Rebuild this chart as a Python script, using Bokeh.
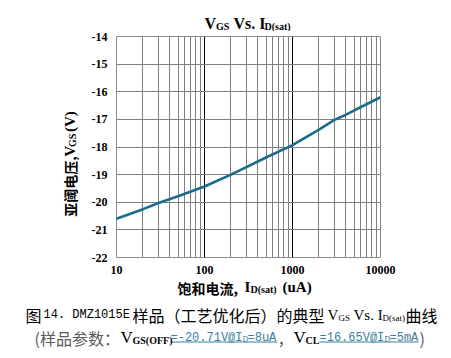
from bokeh.plotting import figure
from bokeh.models import Range1d, FixedTicker, Label
from bokeh.layouts import column, row
from bokeh.embed import file_html
from bokeh.resources import INLINE

# ---- data ----
current_ua = [10, 20, 30, 50, 100, 200, 500, 1000, 2000, 3000, 4000, 5000, 10000]
vgs_v = [-20.6, -20.25, -20.03, -19.78, -19.43, -19.0, -18.38, -17.93, -17.37, -17.02, -16.84, -16.68, -16.2]
x_ticks = [10, 100, 1000, 10000]
x_tick_labels = ["10", "100", "1000", "10000"]
y_ticks = [-22, -21, -20, -19, -18, -17, -16, -15, -14]
y_tick_labels = ["-22", "-21", "-20", "-19", "-18", "-17", "-16", "-15", "-14"]
x_major_grid = [100, 1000]
x_minor_grid = [m * 10 ** d for d in (1, 2, 3) for m in range(2, 10)]
y_grid = [-21, -20, -19, -18, -17, -16, -15]

GRID = "#7f7f7f"
CURVE = "#1d6a8a"
TEAL = "#3a7f9c"
GRAYTXT = "#5a5a5a"
SERIF = "Liberation Serif"
CJK = "Noto Sans CJK SC"
MONO = "Liberation Mono"

# page layout (pixels)
W = 443
TOP_H = 31            # title strip
MID_H = 250           # chart row
BOT_H = 70            # x label + caption strip
LEFT_W = 84           # y label strip
FL, FR, FT, FB = 116, 380, 36, 257   # frame edges on the page

# ---- main chart ----
MW = W - LEFT_W
p = figure(width=MW, height=MID_H, x_axis_type="log",
           x_range=Range1d(10, 10000), y_range=Range1d(-22, -14),
           output_backend="svg", toolbar_location=None,
           min_border_left=FL - LEFT_W, min_border_right=W - FR,
           min_border_top=FT - TOP_H, min_border_bottom=TOP_H + MID_H - FB)
p.background_fill_color = "white"
p.border_fill_color = "white"
p.outline_line_color = "#8c8c8c"
p.outline_line_width = 1

p.xgrid.ticker = FixedTicker(ticks=x_major_grid, minor_ticks=x_minor_grid)
p.xgrid.grid_line_color = "black"
p.xgrid.grid_line_width = 1
p.xgrid.minor_grid_line_color = GRID
p.xgrid.minor_grid_line_width = 1
p.ygrid.ticker = FixedTicker(ticks=y_grid)
p.ygrid.grid_line_color = GRID
p.ygrid.grid_line_width = 1

p.xaxis.ticker = FixedTicker(ticks=x_ticks)
p.xaxis.major_label_overrides = {t: s for t, s in zip(x_ticks, x_tick_labels)}
p.yaxis.ticker = FixedTicker(ticks=y_ticks)
p.yaxis.major_label_overrides = {t: s for t, s in zip(y_ticks, y_tick_labels)}
for ax in (p.xaxis, p.yaxis):
    ax.axis_line_color = None
    ax.major_tick_line_color = None
    ax.minor_tick_line_color = None
    ax.major_tick_out = 0
    ax.major_tick_in = 0
    ax.minor_tick_out = 0
    ax.minor_tick_in = 0
    ax.major_label_text_font = SERIF
    ax.major_label_text_font_style = "bold"
    ax.major_label_text_font_size = "12px"
    ax.major_label_text_color = "black"
p.xaxis.major_label_standoff = 8
p.yaxis.major_label_standoff = 9

p.line(current_ua, vgs_v, line_color=CURVE, line_width=2.6)


# ---- text strips: blank figures whose data units are page pixels ----
def strip(x0, x1, y0, y1):
    f = figure(width=x1 - x0, height=y1 - y0,
               x_range=Range1d(x0, x1), y_range=Range1d(y1, y0),
               x_axis_type=None, y_axis_type=None,
               output_backend="svg", toolbar_location=None, min_border=0)
    f.outline_line_color = None
    f.background_fill_color = "white"
    f.border_fill_color = "white"
    return f


def txt(f, text, px, py, size, font=SERIF, style="bold", color="black", angle=0.0):
    f.add_layout(Label(x=px, y=py, text=text, text_font=font,
                       text_font_size=f"{size}px", text_font_style=style,
                       text_color=color, text_align="left",
                       text_baseline="alphabetic", angle=angle))


top = strip(0, W, 0, TOP_H)
left = strip(0, LEFT_W, TOP_H, TOP_H + MID_H)
BOT0 = TOP_H + MID_H
bot = strip(0, W, BOT0, BOT0 + BOT_H)

# title
txt(top, "V", 204, 23, 16)
txt(top, "GS", 215.5, 26, 10)
txt(top, "Vs. I", 233, 23, 16)
txt(top, "D(sat)", 264, 26, 10)

# y axis label (rotated)
R = 1.5707963267948966
YLX = 69
txt(left, "亚阈电压,", YLX, 235, 14, font=CJK, angle=R)
txt(left, "V", YLX, 167, 15, angle=R)
txt(left, "GS", YLX + 3, 156, 10, angle=R)
txt(left, "(V)", YLX, 139, 15, angle=R)

# bottom strip: shift to compensate the observed layout gap
DY = -6
# x axis label
txt(bot, "饱和电流,", 177, 293 + DY, 14, font=CJK)
txt(bot, "I", 244, 292 + DY, 15)
txt(bot, "D(sat)", 250, 295 + DY, 10)
txt(bot, "(uA)", 282, 292 + DY, 15)

# caption line 1
L1 = 320 + DY
txt(bot, "图", 25, L1, 16, font=CJK, style="normal")
txt(bot, "14. DMZ1015E", 43, L1, 12, font=MONO, style="normal")
txt(bot, "样品（工艺优化后）的典型", 132, L1, 16, font=CJK, style="normal")
txt(bot, "V", 327, L1, 15, style="normal")
txt(bot, "GS", 338, L1 + 3, 9, style="normal")
txt(bot, "Vs. I", 353, L1, 15, style="normal")
txt(bot, "D(sat)", 382, L1 + 3, 9, style="normal")
txt(bot, "曲线", 405, L1, 16, font=CJK, style="normal")

# caption line 2
L2 = 343 + DY
txt(bot, "(样品参数：", 34, L2, 16, font=CJK, style="normal", color=GRAYTXT)
txt(bot, "V", 120, L2, 17, style="normal")
txt(bot, "GS(OFF)", 132, L2 + 3, 10)
txt(bot, "=-20.71V@I", 170, L2, 12, font=MONO, style="normal", color=TEAL)
txt(bot, "D", 242, L2 + 2, 8, style="normal", color=TEAL)
txt(bot, "=8uA", 247, L2, 12, font=MONO, style="normal", color=TEAL)
txt(bot, "，", 277, L2, 16, font=CJK, style="normal", color=GRAYTXT)
txt(bot, "V", 293, L2, 17, style="normal")
txt(bot, "CL", 305, L2 + 3, 10)
txt(bot, "=16.65V@I", 319, L2, 12, font=MONO, style="normal", color=TEAL)
txt(bot, "D", 384, L2 + 2, 8, style="normal", color=TEAL)
txt(bot, "=5mA", 389, L2, 12, font=MONO, style="normal", color=TEAL)
txt(bot, ")", 419, L2, 16, font=CJK, style="normal", color=GRAYTXT)

# underlines beneath the two linked value texts (decoration of the caption)
u_start = [170, 319]
u_end = [277, 418]
bot.segment(x0=u_start, y0=[L2 + 4.5] * 2, x1=u_end, y1=[L2 + 4.5] * 2,
            line_color=TEAL, line_width=1)

layout = column(top, row(left, p), bot)
open("out.html", "w").write(file_html(layout, INLINE))
